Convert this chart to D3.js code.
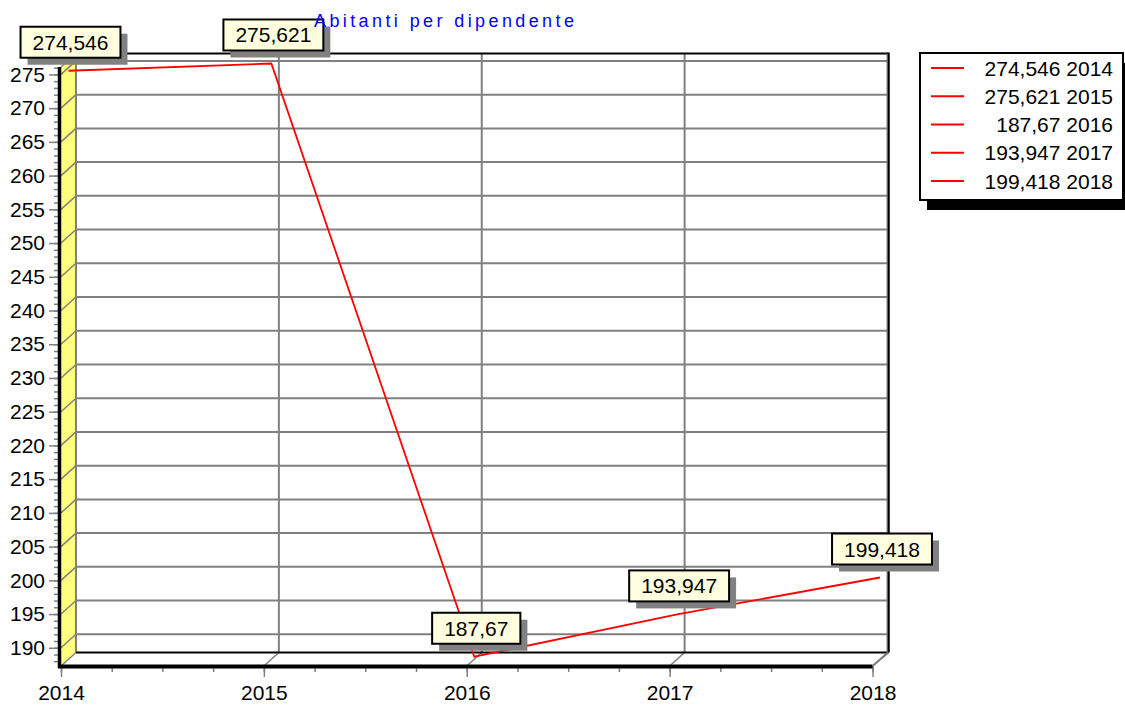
<!DOCTYPE html>
<html>
<head>
<meta charset="utf-8">
<script src="https://cdn.jsdelivr.net/npm/d3@7"></script>
<style>
  html, body { margin: 0; padding: 0; background: #fff; }
  svg { display: block; font-family: "Liberation Sans", Arial, Helvetica, sans-serif; }
</style>
</head>
<body>
<svg id="chart" width="1125" height="707"></svg>
<script>
// ---- data ----
const title = "Abitanti per dipendente";
const years = [2014, 2015, 2016, 2017, 2018];
const values = [274.546, 275.621, 187.67, 193.947, 199.418];
const valueLabels = ["274,546", "275,621", "187,67", "193,947", "199,418"];
const yTicks = [190, 195, 200, 205, 210, 215, 220, 225, 230, 235, 240, 245, 250, 255, 260, 265, 270, 275];
const yDomain = [187.3, 276.1];

(function () {
// ---- layout ----
const svg = d3.select("#chart");
const pL = 61, pR = 872.5, pT = 67, pB = 666;
const DX = 15, DY = -13.5;
const grid = "#808080";

const x = d3.scaleLinear().domain([2014, 2018]).range([pL, pR]);
const y = d3.scaleLinear().domain(yDomain).range([pB, pT]);

// yellow left wall
svg.append("path")
  .attr("d", `M${pL},${pB} L${pL},${pT} L${pL+DX},${pT+DY} L${pL+DX},${pB+DY} Z`)
  .attr("fill", "#ffff80").attr("stroke", "none");

// back wall horizontal gridlines + slants on side wall
const g = svg.append("g");
yTicks.forEach(t => {
  g.append("line").attr("x1", pL + DX).attr("x2", pR + DX)
    .attr("y1", y(t) + DY).attr("y2", y(t) + DY)
    .attr("stroke", grid).attr("stroke-width", 2);
  g.append("line").attr("x1", pL).attr("x2", pL + DX)
    .attr("y1", y(t)).attr("y2", y(t) + DY)
    .attr("stroke", grid).attr("stroke-width", 1.5);
});
// back wall vertical gridlines + floor slants
years.forEach(yr => {
  if (yr !== 2014 && yr !== 2018) {
    g.append("line").attr("x1", x(yr) + DX).attr("x2", x(yr) + DX)
      .attr("y1", pT + DY).attr("y2", pB + DY)
      .attr("stroke", grid).attr("stroke-width", 2);
  }
  g.append("line").attr("x1", x(yr)).attr("x2", x(yr) + DX)
    .attr("y1", pB).attr("y2", pB + DY)
    .attr("stroke", grid).attr("stroke-width", 1.5);
});
// back wall left edge (gray)
g.append("line").attr("x1", pL + DX).attr("x2", pL + DX)
  .attr("y1", pT + DY).attr("y2", pB + DY).attr("stroke", grid).attr("stroke-width", 2);
// side wall top slant
g.append("line").attr("x1", pL).attr("x2", pL + DX)
  .attr("y1", pT).attr("y2", pT + DY).attr("stroke", grid).attr("stroke-width", 1.5);

// frame lines (black)
g.append("line").attr("x1", pL + DX).attr("x2", pR + DX + 1)
  .attr("y1", pT + DY).attr("y2", pT + DY).attr("stroke", "#000").attr("stroke-width", 2);
g.append("line").attr("x1", pL + DX).attr("x2", pR + DX + 1)
  .attr("y1", pB + DY).attr("y2", pB + DY).attr("stroke", "#000").attr("stroke-width", 2);
g.append("line").attr("x1", pR + DX + 1).attr("x2", pR + DX + 1)
  .attr("y1", pT + DY - 1).attr("y2", pB + DY).attr("stroke", "#000").attr("stroke-width", 2.5);
g.append("line").attr("x1", pR + DX - 0.5).attr("x2", pR + DX - 0.5)
  .attr("y1", pT + DY).attr("y2", pB + DY).attr("stroke", grid).attr("stroke-width", 1);

// ---- axes ----
const yAxisMinor = d3.axisLeft(y).tickValues(d3.range(188, 277, 1)).tickSize(7).tickFormat("");
svg.append("g").attr("transform", `translate(${pL},0)`).call(yAxisMinor)
  .call(s => s.select(".domain").remove())
  .call(s => s.selectAll("line").attr("stroke", grid).attr("stroke-width", 1.5));

const yAxis = d3.axisLeft(y).tickValues(yTicks).tickSize(12).tickPadding(4);
svg.append("g").attr("transform", `translate(${pL},0)`).call(yAxis)
  .call(s => s.select(".domain").remove())
  .call(s => s.selectAll("line").attr("stroke", grid).attr("stroke-width", 1.5))
  .call(s => s.selectAll("text").attr("font-size", 21).attr("fill", "#000")
     .attr("font-family", "'Liberation Sans', Arial, sans-serif"));

const xMinor = d3.range(2014, 2018.01, 0.25);
const xAxisMinor = d3.axisBottom(x).tickValues(xMinor).tickSize(6).tickFormat("");
svg.append("g").attr("transform", `translate(0,${pB})`).call(xAxisMinor)
  .call(s => s.select(".domain").remove())
  .call(s => s.selectAll("line").attr("stroke", grid).attr("stroke-width", 1.5));

const xAxis = d3.axisBottom(x).tickValues(years).tickFormat(d3.format("d")).tickSize(11).tickPadding(8);
svg.append("g").attr("transform", `translate(0,${pB})`).call(xAxis)
  .call(s => s.select(".domain").remove())
  .call(s => s.selectAll("line").attr("stroke", grid).attr("stroke-width", 1.5))
  .call(s => s.selectAll("text").attr("font-size", 21).attr("fill", "#000")
     .attr("font-family", "'Liberation Sans', Arial, sans-serif"));

// thick front lines
svg.append("line").attr("x1", pL - 1.5).attr("x2", pL - 1.5)
  .attr("y1", pT).attr("y2", pB + 2).attr("stroke", "#000").attr("stroke-width", 3.5);
svg.append("line").attr("x1", pL - 3).attr("x2", pR)
  .attr("y1", pB + 0.5).attr("y2", pB + 0.5).attr("stroke", "#000").attr("stroke-width", 4);
// right floor slant
svg.append("line").attr("x1", pR).attr("x2", pR + DX + 1)
  .attr("y1", pB).attr("y2", pB + DY).attr("stroke", grid).attr("stroke-width", 2);

// ---- series line (mid depth) ----
const mx = DX / 2, my = DY / 2;
const line = d3.line().x((d, i) => x(years[i]) + mx).y(d => y(d) + my);
svg.append("path").datum(values).attr("d", line)
  .attr("fill", "none").attr("stroke", "#ff0000").attr("stroke-width", 1.8);

// ---- value labels ----
const lab = svg.append("g").attr("font-family", "'Liberation Sans', Arial, sans-serif");
values.forEach((v, i) => {
  const px = x(years[i]) + mx, py = y(v) + my;
  const grp = lab.append("g");
  const t = grp.append("text").text(valueLabels[i]).attr("font-size", 21)
    .attr("text-anchor", "middle");
  const w = t.node().getComputedTextLength() + 24;
  const h = 31;
  const bx = px + 2 - w / 2, by = py - 13 - h;
  grp.insert("rect", "text").attr("x", bx + 7).attr("y", by + 7).attr("width", w).attr("height", h)
    .attr("fill", "#808080");
  grp.insert("rect", "text").attr("x", bx).attr("y", by).attr("width", w).attr("height", h)
    .attr("fill", "#ffffe0").attr("stroke", "#000").attr("stroke-width", 2);
  t.attr("x", bx + w / 2).attr("y", by + 23);
});

// ---- legend ----
const lg = svg.append("g").attr("font-family", "'Liberation Sans', Arial, sans-serif");
const lx = 920, ly = 53, lw = 203, lh = 147;
lg.append("rect").attr("x", lx + 7).attr("y", ly + 10).attr("width", lw).attr("height", lh).attr("fill", "#000");
lg.append("rect").attr("x", lx).attr("y", ly).attr("width", lw).attr("height", lh)
  .attr("fill", "#fff").attr("stroke", "#000").attr("stroke-width", 2);
years.forEach((yr, i) => {
  const cy = 68 + i * 28.25;
  lg.append("line").attr("x1", 931).attr("x2", 964).attr("y1", cy).attr("y2", cy)
    .attr("stroke", "#ff0000").attr("stroke-width", 2);
  lg.append("text").attr("x", 1113).attr("y", cy + 7.5).attr("text-anchor", "end")
    .attr("font-size", 21).attr("fill", "#000").text(valueLabels[i] + " " + yr);
});

// ---- title ----
svg.append("text").attr("x", 314).attr("y", 27).attr("font-size", 18)
  .attr("letter-spacing", "3.4px").attr("fill", "#0000ff").text(title);
})();
</script>
</body>
</html>
